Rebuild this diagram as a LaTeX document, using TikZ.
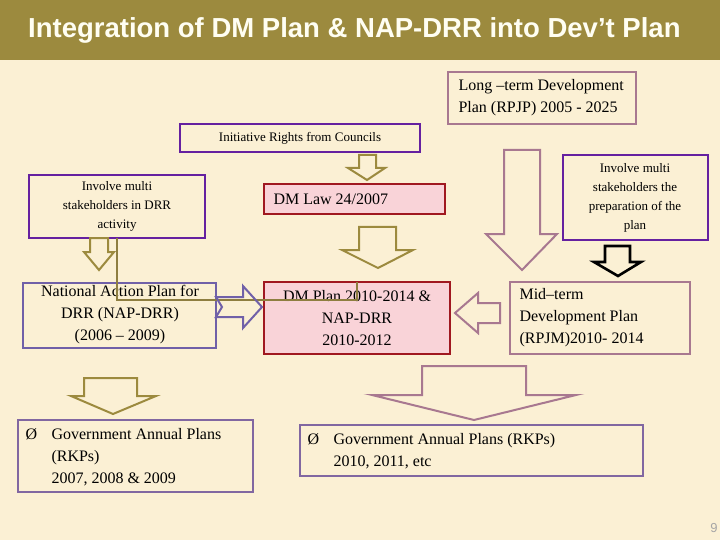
\documentclass[tikz,border=0pt]{standalone}
\usepackage{fontspec}
\setmainfont{Liberation Serif}
\newfontfamily\titlefont{Liberation Sans}
\definecolor{bg}{HTML}{FBF0D4}
\definecolor{olive}{HTML}{9C8A3E}
\definecolor{purp}{HTML}{6520A0}
\definecolor{redb}{HTML}{A01820}
\definecolor{pinkf}{HTML}{F9D3D8}
\definecolor{mauve}{HTML}{A87890}
\definecolor{lav}{HTML}{7060A8}
\definecolor{gold}{HTML}{8E7E40}
\tikzset{
 bx/.style={draw,line width=2.2pt,inner sep=0pt},
 arr/.style={line width=2pt,line join=miter},
 t13/.style={font=\fontsize{13}{19}\selectfont,align=center},
 t16/.style={font=\fontsize{16}{22}\selectfont},
}
\begin{document}
\begin{tikzpicture}[x=1pt,y=-1pt]
\fill[bg] (0,0) rectangle (720,540);
\useasboundingbox (0,0) rectangle (720,540);
\fill[olive] (0,0) rectangle (720,60);
\node[text=white!95!yellow,font=\titlefont\bfseries\fontsize{27.5}{30}\selectfont,anchor=west,inner sep=0pt] (title) at (28,30) {Integration of DM Plan \& NAP-DRR into Dev’t Plan};
% boxes
\draw[bx,mauve] (448,72) rectangle (636,124);
\node[t16,align=left,anchor=west] (lt) at (455,98) {Long –term Development\\Plan (RPJP) 2005 - 2025};
\draw[bx,purp] (180,124) rectangle (420,152);
\node[t13] (init) at (300,138) {Initiative Rights from Councils};
\draw[bx,purp] (29,175) rectangle (205,238);
\node[t13] (invl) at (117,206) {Involve multi\\stakeholders in DRR\\activity};
\draw[bx,redb,fill=pinkf] (264,184) rectangle (445,214);
\node[t16,anchor=west] (law) at (270,199) {DM Law 24/2007};
\draw[bx,purp] (563,155) rectangle (708,240);
\node[t13] (invr) at (635,198) {Involve multi\\stakeholders the\\preparation of the\\plan};
\draw[bx,lav] (23,283) rectangle (216,348);
\node[t16,align=center] (nap) at (120,315) {National Action Plan for\\DRR (NAP-DRR)\\(2006 – 2009)};
\draw[bx,redb,fill=pinkf] (264,282) rectangle (450,354);
\node[t16,align=center] (dmp) at (357,318) {DM Plan  2010-2014 \&\\NAP-DRR\\2010-2012};
\draw[bx,mauve] (510,282) rectangle (690,354);
\node[t16,align=left,anchor=west] (mid) at (516,318) {Mid–term\\Development Plan\\(RPJM)2010- 2014};
\draw[bx,color=lav!70!mauve] (18,420) rectangle (253,492);
\node[t16,anchor=north west] (gb1) at (22,425) {Ø};
\node[t16,align=left,anchor=north west] (gl) at (48,425) {Government Annual Plans\\(RKPs)\\2007, 2008 \& 2009};
\draw[bx,color=lav!70!mauve] (300,425) rectangle (643,476);
\node[t16,anchor=north west] (gb2) at (304,430) {Ø};
\node[t16,align=left,anchor=north west] (gr) at (330,430) {Government Annual Plans (RKPs)\\2010, 2011, etc};
% thin connector
\draw[gold,line width=1.2pt] (117,238) -- (117,300) -- (357,300) -- (357,282);
% block arrows
\draw[arr,olive] (359,155) -- (376,155) -- (376,168) -- (385,168) -- (367,180) -- (348,168) -- (359,168) -- cycle;
\draw[arr,olive] (359,227) -- (396,227) -- (396,250) -- (413,250) -- (378,268) -- (342,250) -- (359,250) -- cycle;
\draw[arr,olive] (90,238) -- (108,238) -- (108,252) -- (114,252) -- (99,270) -- (84,252) -- (90,252) -- cycle;
\draw[arr,mauve] (504,150) -- (540,150) -- (540,234) -- (557,234) -- (522,270) -- (486,234) -- (504,234) -- cycle;
\draw[line width=2.6pt,black] (605,246) -- (630,246) -- (630,262) -- (641,262) -- (618,276) -- (594,262) -- (605,262) -- cycle;
\draw[arr,lav] (216,297) -- (243,297) -- (243,286) -- (262,307) -- (243,328) -- (243,317) -- (216,317) -- (222,307) -- cycle;
\draw[arr,mauve] (500,303) -- (478,303) -- (478,293) -- (455,313) -- (478,333) -- (478,323) -- (500,323) -- cycle;
\draw[arr,olive] (84,378) -- (137,378) -- (137,396) -- (156,396) -- (113,414) -- (71,396) -- (84,396) -- cycle;
\draw[arr,mauve] (422,366) -- (526,366) -- (526,395) -- (576,395) -- (474,420) -- (372,395) -- (422,395) -- cycle;
\node[text=gray!70,font=\titlefont\fontsize{13}{15}\selectfont] (pg) at (714,528) {9};
\end{tikzpicture}
\end{document}
